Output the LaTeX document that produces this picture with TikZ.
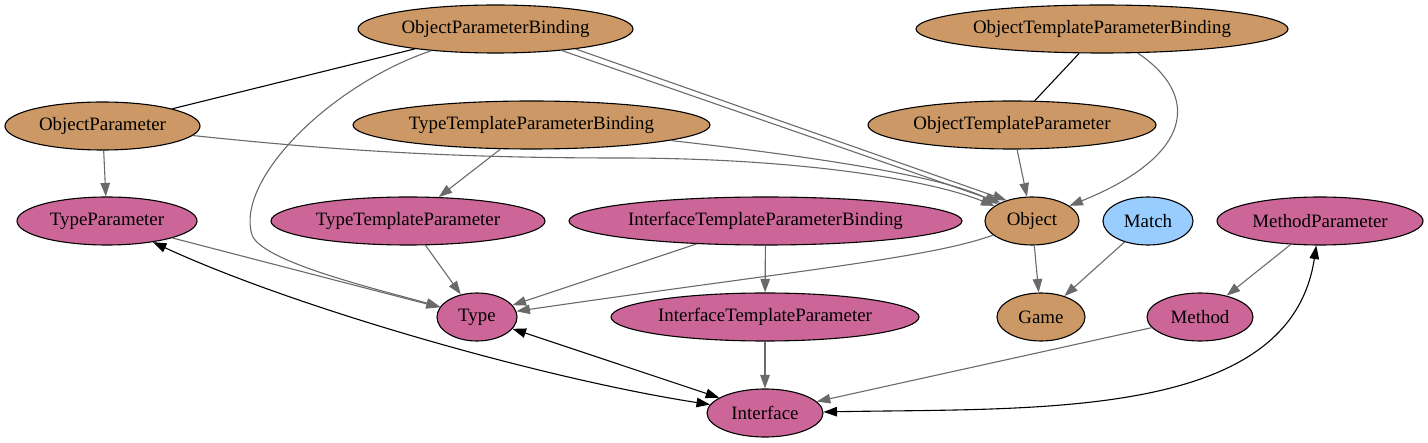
\documentclass[tikz,border=0pt]{standalone}
\usepackage{fontspec}
\newfontfamily\lserif{Liberation Serif}
\usetikzlibrary{shapes.geometric,arrows.meta}
\definecolor{tanc}{HTML}{CC9966}
\definecolor{pinkc}{HTML}{CC6699}
\definecolor{bluec}{HTML}{99CCFF}
\definecolor{edgec}{HTML}{6A6A6A}
\begin{document}
\begin{tikzpicture}[x=1pt,y=-1pt,
  nd/.style={ellipse,draw=black,line width=1.1pt,inner sep=0pt,minimum height=48pt,font=\lserif\fontsize{18.9}{22}\selectfont},
  tannode/.style={nd,fill=tanc},
  pinknode/.style={nd,fill=pinkc},
  bluenode/.style={nd,fill=bluec},
  tipx/.tip={Triangle[length=13.5pt,width=9.5pt]},
  ge/.style={draw=edgec,line width=1.1pt,-tipx},
  bl/.style={draw=black,line width=1.1pt},
  bb/.style={draw=black,line width=1.1pt,tipx-tipx}]
\useasboundingbox (0,0) rectangle (1428,443);
% row 1
\node[tannode,minimum width=275pt] (opb) at (495.5,29) {ObjectParameterBinding};
\node[tannode,minimum width=372pt] (otpb) at (1102,29) {ObjectTemplateParameterBinding};
% row 2
\node[tannode,minimum width=195pt] (op) at (102.5,126) {ObjectParameter};
\node[tannode,minimum width=357pt] (ttpb) at (531.5,125) {TypeTemplateParameterBinding};
\node[tannode,minimum width=288pt] (otp) at (1012,125) {ObjectTemplateParameter};
% row 3
\node[pinknode,minimum width=180pt] (tp) at (107,221) {TypeParameter};
\node[pinknode,minimum width=274pt] (ttp) at (408,221) {TypeTemplateParameter};
\node[pinknode,minimum width=393pt] (itpb) at (765.5,221) {InterfaceTemplateParameterBinding};
\node[tannode,minimum width=94pt] (object) at (1032,221) {Object};
\node[bluenode,minimum width=90pt] (match) at (1148,221) {Match};
\node[pinknode,minimum width=206pt] (mp) at (1320,221) {MethodParameter};
% row 4
\node[pinknode,minimum width=80pt] (type) at (477,317) {Type};
\node[pinknode,minimum width=308pt] (itp) at (765,317) {InterfaceTemplateParameter};
\node[tannode,minimum width=88pt] (game) at (1041,317) {Game};
\node[pinknode,minimum width=106pt] (method) at (1200,317) {Method};
% row 5
\node[pinknode,minimum width=116pt] (interface) at (765,413) {Interface};
% edges
\draw[bl] (opb) -- (op);
\draw[ge] (opb) .. controls (330,85) and (235,180) .. (252,235) .. controls (262,262) and (380,290) .. (type);
\draw[ge] (opb.-18) -- (object.150);
\draw[ge] (opb.-14) -- (object.141);
\draw[ge] (op) -- (tp);
\draw[ge] (op) .. controls (330,150) and (450,158) .. (620,158) .. controls (800,158) and (930,180) .. (object);
\draw[ge] (ttpb) -- (ttp);
\draw[ge] (ttpb) .. controls (800,155) and (940,175) .. (object);
\draw[bl] (otpb) -- (otp);
\draw[ge] (otpb) .. controls (1200,95) and (1195,155) .. (object);
\draw[ge] (otp) -- (object);
\draw[ge] (tp) -- (type);
\draw[bb] (tp) .. controls (300,310) and (550,380) .. (interface);
\draw[bb] (type) -- (interface);
\draw[ge] (ttp) -- (type);
\draw[ge] (itpb) -- (type);
\draw[ge] (object) .. controls (930,258) and (800,270) .. (type);
\draw[ge] (itpb) -- (itp);
\draw[ge] (itp) -- (interface);
\draw[ge] (object) -- (game);
\draw[ge] (match) -- (game);
\draw[ge] (mp) -- (method);
\draw[ge] (method) -- (interface);
\draw[bb] (interface) .. controls (1040,408) and (1290,420) .. (mp);
\end{tikzpicture}
\end{document}
